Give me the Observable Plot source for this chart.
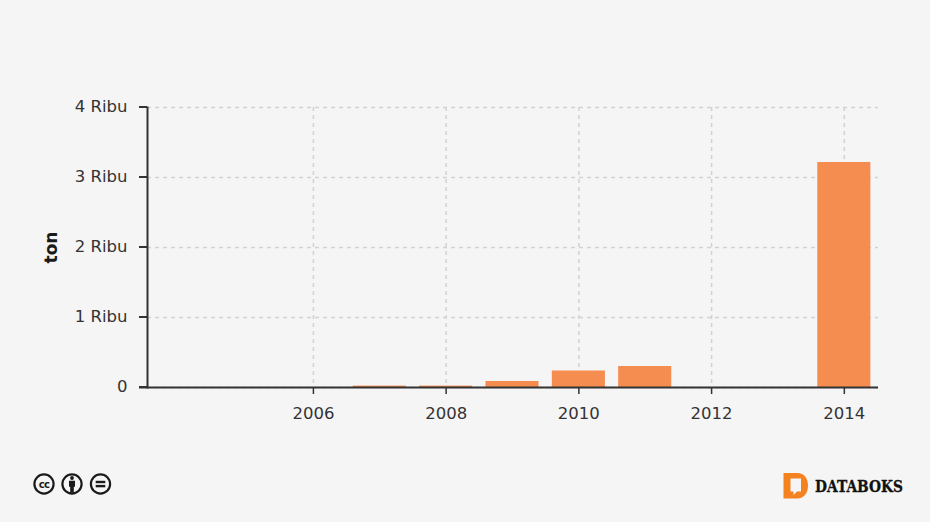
<!DOCTYPE html>
<html>
<head>
<meta charset="utf-8">
<script src="https://cdn.jsdelivr.net/npm/d3@7"></script>
<script src="https://cdn.jsdelivr.net/npm/@observablehq/plot@0.6"></script>
<style>
html,body{margin:0;padding:0;background:#f5f5f5;width:930px;height:522px;overflow:hidden}
#chart{position:absolute;left:0;top:0}
#foot{position:absolute;left:0;top:0;pointer-events:none}
</style>
</head>
<body>
<div id="chart"></div>
<svg id="foot" width="930" height="522" viewBox="0 0 930 522">
  <g fill="none" stroke="#1a1a1a" stroke-width="2.2">
    <circle cx="44" cy="484" r="9.6"/><circle cx="72" cy="484" r="9.6"/><circle cx="100.500" cy="484" r="9.6"/>
  </g>
  <text x="44" y="487.8" text-anchor="middle" font-family="DejaVu Sans" font-weight="bold" font-size="10" letter-spacing="-0.6" fill="#1a1a1a">cc</text>
  <g fill="#1a1a1a">
    <circle cx="72" cy="478" r="1.9"/>
    <path d="M69 480.800h6v6h-1.200v6h-3.600v-6H69z"/>
    <rect x="95.700" y="480.800" width="9.6" height="2.4"/><rect x="95.700" y="484.900" width="9.6" height="2.4"/>
  </g>
  <path fill-rule="evenodd" fill="#f58220" d="M783.500 473h14c6.500 0 10.500 5 10.500 12.500s-4 13-10.500 13h-14zM790.500 478.500v13h3v3.500l3.500-3.500h4v-13z"/>
  <text x="815" y="491.500" font-family="DejaVu Serif" font-weight="bold" font-size="16.500" fill="#111" stroke="#111" stroke-width="0.3" textLength="88" lengthAdjust="spacingAndGlyphs">DATABOKS</text>
</svg>
<script>
const years = [2004,2005,2006,2007,2008,2009,2010,2011,2012,2013,2014];
const tons  = [0,0,0,20,20,86,236,300,0,0,3214];
const tickYears = [2006,2008,2010,2012,2014];
const tickValues = [0,1000,2000,3000,4000];
const yLabel = "ton";
const table = years.map((year,i)=>({year,ton:tons[i]}));
const fmt = d => d === 0 ? "0" : `${d/1000} Ribu`;
const grid = {stroke:"#d2d2d2", strokeWidth:1.5, strokeDasharray:"4 4", strokeOpacity:1};

const plot = Plot.plot({
  width:930, height:522,
  marginLeft:147, marginRight:53, marginTop:107, marginBottom:135,
  style:{background:"#f5f5f5", fontFamily:"'DejaVu Sans'", fontSize:"16.5px", color:"#333"},
  x:{type:"band", domain:years, paddingInner:0.2, paddingOuter:0.1, round:false, label:null},
  y:{domain:[0,4000], label:null},
  marks:[
    Plot.ruleY(tickValues, {...grid, insetRight:-1}),
    Plot.ruleX(tickYears, {...grid}),
    Plot.barY(table, {x:"year", y:"ton", fill:"#f58c50"}),
    Plot.frame({anchor:"left", stroke:"#333", strokeWidth:2}),
    Plot.ruleY([0], {stroke:"#333", strokeWidth:2, insetLeft:-8, insetRight:-1}),
    Plot.axisY({ticks:tickValues, tickFormat:fmt, tickSize:8, tickPadding:12, stroke:"#333", strokeWidth:2, strokeOpacity:1, label:null, fill:"#333", fontSize:16.5, dy:-0.5}),
    Plot.axisX({ticks:tickYears, tickFormat:d=>String(d), tickSize:7, tickPadding:13, stroke:"#333", strokeWidth:1.5, strokeOpacity:1, label:null, fill:"#333", fontSize:16.5}),
    Plot.text([yLabel], {frameAnchor:"left", textAnchor:"middle", rotate:-90, dx:-96, fontWeight:"bold", fontSize:17, fill:"#1a1a1a"})
  ]
});
document.getElementById("chart").append(plot);
</script>
</body>
</html>
